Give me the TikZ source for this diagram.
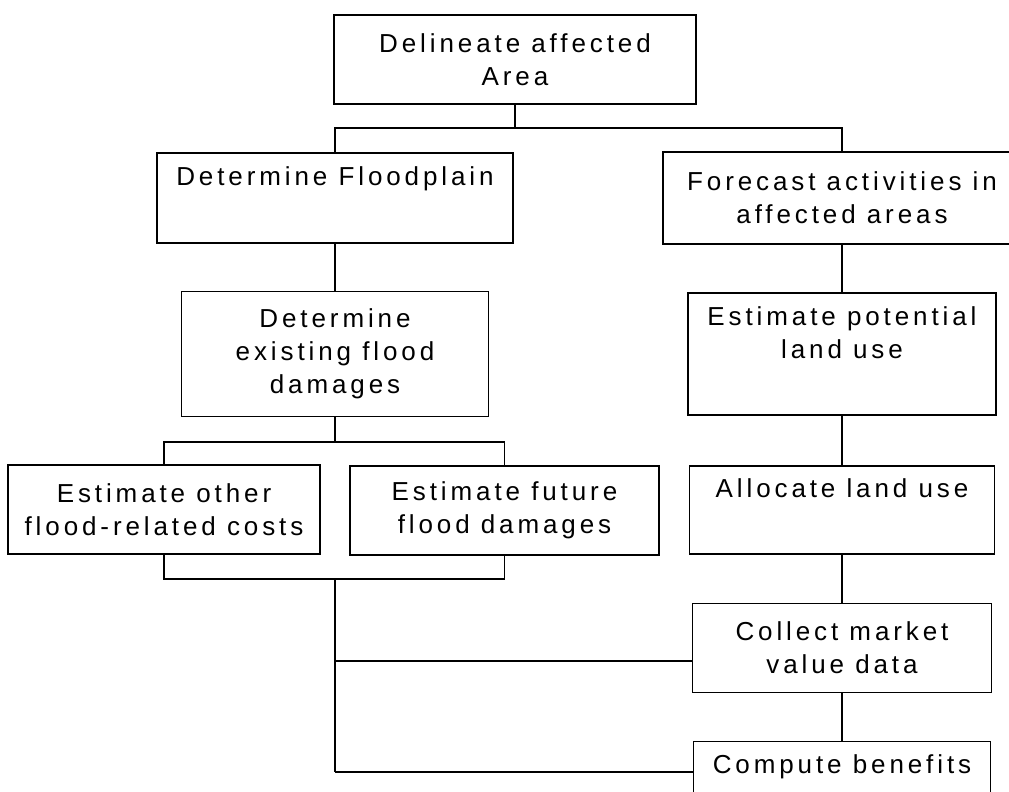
\documentclass[tikz,border=0pt]{standalone}
\usepackage{fontspec}
\setmainfont[LetterSpace=15]{Liberation Sans}
\usepackage{tikz}
\tikzset{stepbox/.style={draw, align=center, inner sep=0pt, font=\fontsize{13pt}{16.5pt}\selectfont}}

\begin{document}
\begin{tikzpicture}[x=0.5pt, y=-0.5pt, node distance=78pt, line width=0.9pt]
		\clip (0,0) rectangle (1009,792);
		\node(A)[stepbox, minimum width=181pt, minimum height=44.5pt] at (515,59.5){Delineate affected\\Area};
		\node(B)[stepbox, minimum width=178pt, minimum height=45pt] at (335,198){Determine Floodplain\\\strut};
		\node(C)[stepbox, minimum width=179pt, minimum height=46pt] at (842,198){Forecast activities in\\affected areas};
		\node(D)[stepbox, minimum width=153.5pt, minimum height=62.5pt, below of=B]{Determine\\existing flood\\damages};
		\node(E)[stepbox, minimum width=156pt, minimum height=44.5pt] at (164,509.5){Estimate other\\flood-related costs};
		\node(F)[stepbox, minimum width=154.5pt, minimum height=44.5pt] at (504.5,510.5){Estimate future\\flood damages};
		\node(G)[stepbox, minimum width=154pt, minimum height=61pt, below of=C]{Estimate potential\\land use\\\strut};
		\node(H)[stepbox, minimum width=152.5pt, minimum height=44pt, below of=G]{Allocate land use\\\strut};
		\node(I)[stepbox, minimum width=149.5pt, minimum height=44.5pt, below of=H, node distance=69pt]{Collect market\\value data};
		\node(J)[stepbox, minimum width=148.5pt, minimum height=44.5pt, below of=I, node distance=69pt]{Compute benefits\\\strut};
		\coordinate(jA) at (515,128);
		\coordinate(jB) at (335,442);
		\coordinate(jC) at (335,579);
		\coordinate(jD) at (335,661);
		\coordinate(jE) at (335,772);
		\draw(A) to (jA);
		\draw(B) |- (jA) -| (C);
		\draw(B) to (D);
		\draw(D) to (jB);
		\draw(E) |- (jB) -| (F);
		\draw(E) |- (jC) -| (F);
		\draw(jC) to (jE);
		\draw(jD) to (jD -| I.west);
		\draw(jE) to (jE -| J.west);
		\draw(C) to (G);
		\draw(G) to (H);
		\draw(H) to (I);
		\draw(I) to (J);
	\end{tikzpicture}
\end{document}
